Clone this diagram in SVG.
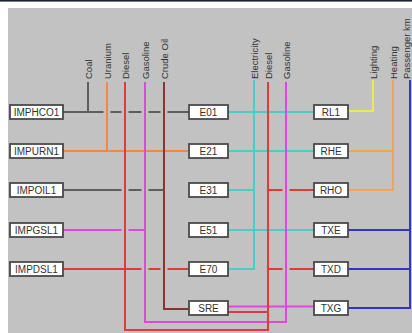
<svg xmlns="http://www.w3.org/2000/svg" width="412" height="333" viewBox="0 0 412 333">
<style>
.box rect{fill:#fff;stroke:#4a4a4a;stroke-width:1.8}
.box text{font-family:"Liberation Sans",Arial,sans-serif;font-size:10px;fill:#333;text-anchor:middle;dominant-baseline:central}
.lbl{font-family:"Liberation Sans",Arial,sans-serif;font-size:9.5px;fill:#333;dominant-baseline:central}
#connectors path,#connectors line{fill:none;stroke-width:2}
.coal{stroke:#5e5e5e}
.ura{stroke:#f0884a}
.dsl{stroke:#e23a3a}
.gsl{stroke:#de48de}
.cru{stroke:#8c3434}
.ele{stroke:#48cfc4}
.lgt{stroke:#ecec48}
.hea{stroke:#eea650}
.pkm{stroke:#3434cc}
</style>
<rect x="0" y="0" width="412" height="333" fill="#fff"/>
<rect x="0" y="0" width="412" height="1.6" fill="#1c2230"/>
<rect x="8" y="8" width="404" height="325" fill="#c2c2c2"/>

<g id="labels">
<text class="lbl" transform="translate(88,79) rotate(-90)">Coal</text>
<text class="lbl" transform="translate(107,79) rotate(-90)">Uranium</text>
<text class="lbl" transform="translate(125,79) rotate(-90)">Diesel</text>
<text class="lbl" transform="translate(145,79) rotate(-90)">Gasoline</text>
<text class="lbl" transform="translate(164,79) rotate(-90)">Crude Oil</text>
<text class="lbl" transform="translate(254,79) rotate(-90)">Electricity</text>
<text class="lbl" transform="translate(268,79) rotate(-90)">Diesel</text>
<text class="lbl" transform="translate(286,79) rotate(-90)">Gasoline</text>
<text class="lbl" transform="translate(373,79) rotate(-90)">Lighting</text>
<text class="lbl" transform="translate(393,79) rotate(-90)">Heating</text>
<text class="lbl" transform="translate(406.5,79) rotate(-90)">Passenger km</text>
</g>

<g id="connectors">
<path class="ura" d="M63,151 H190"/>
<path class="coal" d="M63,112 H103.5 M110.5,112 H121.5 M128.5,112 H141.5 M148.5,112 H160.5 M167.5,112 H190"/>
<path class="coal" d="M63,190 H121.5 M128.5,190 H141.5 M148.5,190 H164"/>
<path class="gsl" d="M63,230 H121.5 M128.5,230 H145"/>
<path class="dsl" d="M63,269 H141.5 M148.5,269 H160.5 M167.5,269 H190"/>
<path class="ele" d="M228,112 H314"/>
<path class="ele" d="M228,151 H314"/>
<path class="ele" d="M228,190 H254"/>
<path class="ele" d="M228,230 H314"/>
<path class="ele" d="M228,269 H254 V80"/>
<path class="dsl" d="M268,190 H282.5 M289.5,190 H314"/>
<path class="dsl" d="M268,269 H282.5 M289.5,269 H314"/>
<path class="gsl" d="M228,306.5 H314"/>
<path class="dsl" d="M228,312 H268"/>
<path class="coal" d="M88,82 V112"/>
<path class="ura" d="M107,82 V151"/>
<path class="cru" d="M164,82 V309 H190"/>
<path class="gsl" d="M145,82 V322 H286 V82"/>
<path class="dsl" d="M125,82 V330 H268 V82"/>
<path class="lgt" d="M348,111 H373 V80"/>
<path class="hea" d="M348,151 H393 M348,190 H393 V80"/>
<path class="pkm" d="M348,230 H410 M348,269 H410 M348,308 H410 V80"/>
</g>

<g id="IMPHCO1" class="box"><rect x="10" y="105" width="53" height="14"/><text x="36.5" y="112.5">IMPHCO1</text></g>
<g id="IMPURN1" class="box"><rect x="10" y="144" width="53" height="14"/><text x="36.5" y="151.5">IMPURN1</text></g>
<g id="IMPOIL1" class="box"><rect x="10" y="183" width="53" height="14"/><text x="36.5" y="190.5">IMPOIL1</text></g>
<g id="IMPGSL1" class="box"><rect x="10" y="223" width="53" height="14"/><text x="36.5" y="230.5">IMPGSL1</text></g>
<g id="IMPDSL1" class="box"><rect x="10" y="262" width="53" height="14"/><text x="36.5" y="269.5">IMPDSL1</text></g>

<g id="E01" class="box"><rect x="189" y="105" width="39" height="14"/><text x="208.5" y="112.5">E01</text></g>
<g id="E21" class="box"><rect x="189" y="144" width="39" height="14"/><text x="208.5" y="151.5">E21</text></g>
<g id="E31" class="box"><rect x="189" y="183" width="39" height="14"/><text x="208.5" y="190.5">E31</text></g>
<g id="E51" class="box"><rect x="189" y="223" width="39" height="14"/><text x="208.5" y="230.5">E51</text></g>
<g id="E70" class="box"><rect x="189" y="262" width="39" height="14"/><text x="208.5" y="269.5">E70</text></g>
<g id="SRE" class="box"><rect x="189" y="301" width="39" height="14"/><text x="208.5" y="308.5">SRE</text></g>

<g id="RL1" class="box"><rect x="314" y="105" width="34" height="14"/><text x="331" y="112.5">RL1</text></g>
<g id="RHE" class="box"><rect x="314" y="144" width="34" height="14"/><text x="331" y="151.5">RHE</text></g>
<g id="RHO" class="box"><rect x="314" y="183" width="34" height="14"/><text x="331" y="190.5">RHO</text></g>
<g id="TXE" class="box"><rect x="314" y="223" width="34" height="14"/><text x="331" y="230.5">TXE</text></g>
<g id="TXD" class="box"><rect x="314" y="262" width="34" height="14"/><text x="331" y="269.5">TXD</text></g>
<g id="TXG" class="box"><rect x="314" y="301" width="34" height="14"/><text x="331" y="308.5">TXG</text></g>
</svg>
